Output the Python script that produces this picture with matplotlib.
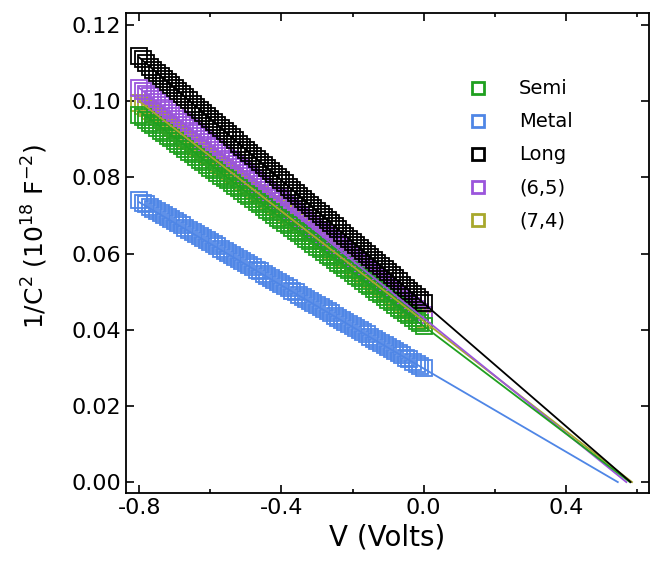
import numpy as np
import matplotlib.pyplot as plt
from matplotlib.ticker import MultipleLocator

# bias sweep, -0.8 V to 0.0 V in 0.01 V steps
V = np.linspace(-0.8, 0.0, 81)

semi = [0.0965, 0.0958, 0.0951, 0.0944, 0.0937, 0.0930, 0.0923, 0.0916, 0.0909, 0.0903,
        0.0896, 0.0889, 0.0882, 0.0875, 0.0868, 0.0861, 0.0854, 0.0847, 0.0840, 0.0833,
        0.0826, 0.0819, 0.0812, 0.0805, 0.0798, 0.0792, 0.0785, 0.0778, 0.0771, 0.0764,
        0.0757, 0.0750, 0.0743, 0.0736, 0.0729, 0.0722, 0.0715, 0.0708, 0.0701, 0.0694,
        0.0687, 0.0680, 0.0674, 0.0667, 0.0660, 0.0653, 0.0646, 0.0639, 0.0632, 0.0625,
        0.0618, 0.0611, 0.0604, 0.0597, 0.0590, 0.0583, 0.0576, 0.0569, 0.0563, 0.0556,
        0.0549, 0.0542, 0.0535, 0.0528, 0.0521, 0.0514, 0.0507, 0.0500, 0.0493, 0.0486,
        0.0479, 0.0472, 0.0465, 0.0458, 0.0451, 0.0445, 0.0438, 0.0431, 0.0424, 0.0417,
        0.0410]
metal = [0.0740, 0.0734, 0.0729, 0.0723, 0.0718, 0.0712, 0.0707, 0.0701, 0.0696, 0.0690,
         0.0685, 0.0679, 0.0674, 0.0668, 0.0663, 0.0657, 0.0652, 0.0646, 0.0641, 0.0635,
         0.0630, 0.0624, 0.0619, 0.0613, 0.0608, 0.0602, 0.0597, 0.0591, 0.0586, 0.0580,
         0.0575, 0.0569, 0.0564, 0.0558, 0.0553, 0.0547, 0.0542, 0.0536, 0.0531, 0.0525,
         0.0520, 0.0514, 0.0509, 0.0503, 0.0498, 0.0492, 0.0487, 0.0481, 0.0476, 0.0470,
         0.0465, 0.0459, 0.0454, 0.0448, 0.0443, 0.0437, 0.0432, 0.0426, 0.0421, 0.0415,
         0.0410, 0.0404, 0.0399, 0.0393, 0.0388, 0.0382, 0.0377, 0.0371, 0.0366, 0.0360,
         0.0355, 0.0349, 0.0344, 0.0338, 0.0333, 0.0327, 0.0322, 0.0316, 0.0311, 0.0305,
         0.0300]
long_ = [0.1118, 0.1110, 0.1100, 0.1091, 0.1083, 0.1075, 0.1066, 0.1058, 0.1050, 0.1042,
         0.1034, 0.1026, 0.1018, 0.1010, 0.1002, 0.0994, 0.0986, 0.0978, 0.0970, 0.0962,
         0.0954, 0.0946, 0.0938, 0.0929, 0.0921, 0.0913, 0.0905, 0.0897, 0.0889, 0.0881,
         0.0873, 0.0865, 0.0857, 0.0849, 0.0841, 0.0833, 0.0825, 0.0817, 0.0809, 0.0801,
         0.0793, 0.0785, 0.0776, 0.0768, 0.0760, 0.0752, 0.0744, 0.0736, 0.0728, 0.0720,
         0.0712, 0.0704, 0.0696, 0.0688, 0.0680, 0.0672, 0.0664, 0.0655, 0.0647, 0.0639,
         0.0631, 0.0623, 0.0615, 0.0607, 0.0599, 0.0591, 0.0583, 0.0575, 0.0567, 0.0559,
         0.0551, 0.0543, 0.0535, 0.0527, 0.0518, 0.0510, 0.0502, 0.0494, 0.0486, 0.0478,
         0.0470]
c65 = [0.1035, 0.1028, 0.1020, 0.1013, 0.1005, 0.0998, 0.0990, 0.0983, 0.0976, 0.0968,
       0.0961, 0.0953, 0.0946, 0.0938, 0.0931, 0.0923, 0.0916, 0.0909, 0.0901, 0.0894,
       0.0886, 0.0879, 0.0871, 0.0864, 0.0857, 0.0849, 0.0842, 0.0834, 0.0827, 0.0819,
       0.0812, 0.0804, 0.0797, 0.0790, 0.0782, 0.0775, 0.0767, 0.0760, 0.0752, 0.0745,
       0.0738, 0.0730, 0.0723, 0.0715, 0.0708, 0.0700, 0.0693, 0.0685, 0.0678, 0.0671,
       0.0663, 0.0656, 0.0648, 0.0641, 0.0633, 0.0626, 0.0619, 0.0611, 0.0604, 0.0596,
       0.0589, 0.0581, 0.0574, 0.0566, 0.0559, 0.0552, 0.0544, 0.0537, 0.0529, 0.0522,
       0.0514, 0.0507, 0.0500, 0.0492, 0.0485, 0.0477, 0.0470, 0.0462, 0.0455, 0.0447,
       0.0440]
c74 = [0.0995, 0.0988, 0.0981, 0.0974, 0.0967, 0.0959, 0.0952, 0.0945, 0.0938, 0.0931,
       0.0924, 0.0917, 0.0910, 0.0902, 0.0895, 0.0888, 0.0881, 0.0874, 0.0867, 0.0860,
       0.0853, 0.0845, 0.0838, 0.0831, 0.0824, 0.0817, 0.0810, 0.0803, 0.0796, 0.0788,
       0.0781, 0.0774, 0.0767, 0.0760, 0.0753, 0.0746, 0.0739, 0.0731, 0.0724, 0.0717,
       0.0710, 0.0703, 0.0696, 0.0689, 0.0682, 0.0674, 0.0667, 0.0660, 0.0653, 0.0646,
       0.0639, 0.0632, 0.0625, 0.0617, 0.0610, 0.0603, 0.0596, 0.0589, 0.0582, 0.0575,
       0.0568, 0.0560, 0.0553, 0.0546, 0.0539, 0.0532, 0.0525, 0.0518, 0.0511, 0.0503,
       0.0496, 0.0489, 0.0482, 0.0475, 0.0468, 0.0461, 0.0454, 0.0446, 0.0439, 0.0432,
       0.0425]

# linear fits: value at -0.8 V and the flat-band intercept
fit_start = {'Semi': 0.0975, 'Metal': 0.0735, 'Long': 0.1115, '(6,5)': 0.1035, '(7,4)': 0.1000}
fit_vfb = {'Semi': 0.580, 'Metal': 0.546, 'Long': 0.582, '(6,5)': 0.570, '(7,4)': 0.586}

colors = {'Semi': '#1fa01f', 'Metal': '#4f86e6', 'Long': 'black',
          '(6,5)': '#9b55dc', '(7,4)': '#a8a82c'}
series = {'Semi': semi, 'Metal': metal, 'Long': long_, '(6,5)': c65, '(7,4)': c74}
legend_order = ['Semi', 'Metal', 'Long', '(6,5)', '(7,4)']
draw_order = ['(7,4)', '(6,5)', 'Metal', 'Semi', 'Long']

fig = plt.figure(figsize=(6.53, 5.61), dpi=100)
ax = fig.add_axes([0.193, 0.121, 0.801, 0.856])

handles = {}
for name in draw_order:
    h, = ax.plot(V, series[name], 's', ms=11.5, mfc='none', mec=colors[name],
                 mew=1.3, label=name, zorder=2)
    handles[name] = h
for name in draw_order:
    ax.plot([-0.8, fit_vfb[name]], [fit_start[name], 0.0], '-',
            color=colors[name], lw=1.3, zorder=3)

ax.set_xlim(-0.837, 0.634)
ax.set_ylim(-0.0029, 0.1232)
ax.xaxis.set_major_locator(MultipleLocator(0.4))
ax.xaxis.set_minor_locator(MultipleLocator(0.2))
ax.yaxis.set_major_locator(MultipleLocator(0.02))
ax.xaxis.set_major_formatter(plt.FuncFormatter(lambda x, p: f'{x:.1f}'.replace('-0.0', '0.0')))
ax.yaxis.set_major_formatter(plt.FuncFormatter(lambda y, p: f'{y:.2f}'))
ax.tick_params(which='both', direction='in', top=True, right=True, labelsize=16, width=1.2)
ax.tick_params(which='major', length=6)
ax.tick_params(which='minor', length=3)
for s in ax.spines.values():
    s.set_linewidth(1.3)

ax.set_xlabel('V (Volts)', fontsize=20, labelpad=4)
ax.set_ylabel('1/C$^2$ (10$^{18}$ F$^{-2}$)', fontsize=18)
ax.yaxis.set_label_coords(-0.145, 0.535)

leg = ax.legend([handles[n] for n in legend_order], legend_order,
                loc='upper left', bbox_to_anchor=(0.603, 0.898), frameon=False,
                fontsize=14, markerscale=0.73, handletextpad=1.1, labelspacing=0.72)
for h in leg.legend_handles:
    h.set_markeredgewidth(2)

fig.savefig('out.png', dpi=100)
